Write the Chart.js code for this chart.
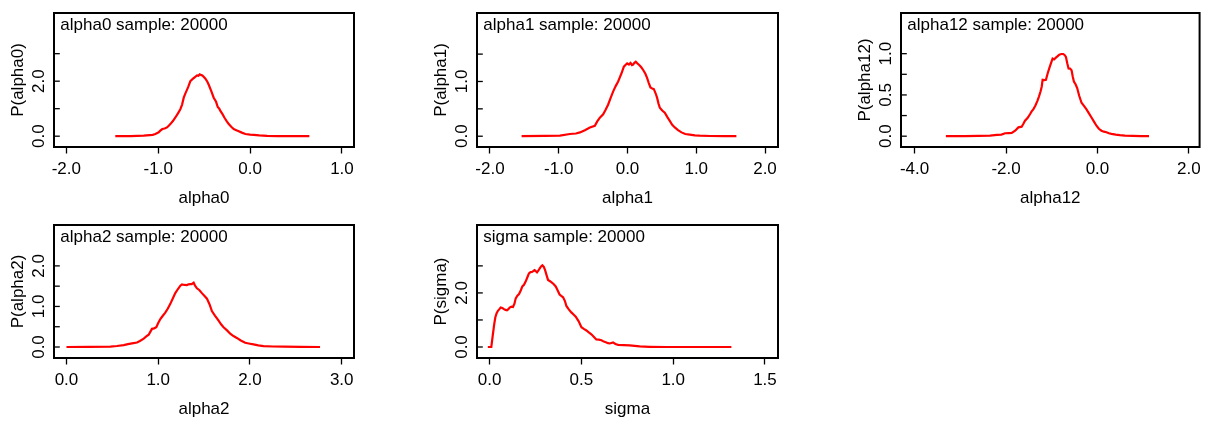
<!DOCTYPE html>
<html><head><meta charset="utf-8">
<script src="https://cdn.jsdelivr.net/npm/chart.js@4.4.1/dist/chart.umd.min.js"></script>
<style>
html,body{margin:0;padding:0;background:#fff;}
body{width:1207px;height:421px;position:relative;overflow:hidden;}
canvas{position:absolute;}
</style></head><body>
<canvas id="c0"></canvas><canvas id="c1"></canvas><canvas id="c2"></canvas><canvas id="c3"></canvas><canvas id="c4"></canvas>
<script>
// ---- data ----
const alpha0X = [-1.467,-1.30,-1.158,-1.06,-1.031,-0.995,-0.977,-0.955,-0.93,-0.904,-0.885,-0.868,-0.84,-0.813,-0.785,-0.759,-0.74,-0.722,-0.705,-0.693,-0.672,-0.65,-0.635,-0.621,-0.6,-0.577,-0.562,-0.548,-0.53,-0.519,-0.5,-0.486,-0.465,-0.45,-0.42,-0.396,-0.37,-0.352,-0.335,-0.323,-0.30,-0.28,-0.255,-0.232,-0.205,-0.178,-0.15,-0.123,-0.09,-0.051,0.0,0.04,0.10,0.185,0.30,0.45,0.645];
const alpha0Y = [0,0.005,0.02,0.05,0.08,0.14,0.2,0.26,0.28,0.32,0.38,0.44,0.55,0.68,0.83,0.98,1.15,1.40,1.55,1.64,1.80,2.0,2.05,2.09,2.15,2.21,2.20,2.25,2.22,2.21,2.14,2.09,1.98,1.87,1.62,1.40,1.25,1.06,1.0,0.92,0.80,0.68,0.55,0.44,0.34,0.26,0.22,0.18,0.13,0.08,0.06,0.05,0.03,0.01,0.005,0.002,0];

const alpha1X = [-1.54,-1.2,-0.983,-0.838,-0.75,-0.692,-0.62,-0.547,-0.475,-0.44,-0.402,-0.354,-0.32,-0.281,-0.245,-0.208,-0.17,-0.136,-0.11,-0.087,-0.053,-0.03,-0.005,0.02,0.044,0.065,0.082,0.10,0.121,0.145,0.17,0.2,0.228,0.26,0.286,0.31,0.334,0.36,0.383,0.41,0.431,0.45,0.47,0.505,0.542,0.58,0.615,0.65,0.688,0.735,0.785,0.84,0.906,0.98,1.05,1.2,1.4,1.584];
const alpha1Y = [0,0.005,0.01,0.04,0.05,0.07,0.11,0.16,0.19,0.27,0.34,0.40,0.48,0.58,0.70,0.82,0.92,1.0,1.08,1.15,1.27,1.30,1.33,1.31,1.34,1.30,1.31,1.34,1.36,1.33,1.30,1.26,1.21,1.14,1.06,0.97,0.89,0.87,0.86,0.78,0.70,0.6,0.52,0.47,0.43,0.35,0.28,0.21,0.16,0.11,0.07,0.04,0.03,0.015,0.01,0.004,0.001,0];

const alpha12X = [-3.316,-2.9,-2.6,-2.349,-2.2,-2.1,-2.02,-1.94,-1.876,-1.80,-1.73,-1.658,-1.62,-1.585,-1.53,-1.476,-1.44,-1.404,-1.36,-1.316,-1.28,-1.244,-1.22,-1.2,-1.16,-1.127,-1.09,-1.055,-1.02,-0.982,-0.95,-0.909,-0.87,-0.836,-0.79,-0.749,-0.72,-0.69,-0.66,-0.633,-0.60,-0.567,-0.54,-0.516,-0.48,-0.444,-0.40,-0.349,-0.30,-0.24,-0.19,-0.131,-0.08,-0.022,0.03,0.087,0.14,0.196,0.25,0.305,0.4,0.487,0.6,0.778,0.95,1.127];
const alpha12Y = [0,0.002,0.004,0.008,0.016,0.02,0.036,0.038,0.04,0.067,0.107,0.115,0.15,0.187,0.22,0.266,0.30,0.325,0.37,0.425,0.48,0.544,0.6,0.683,0.68,0.683,0.76,0.821,0.88,0.94,0.93,0.952,0.97,0.988,0.996,0.996,0.985,0.96,0.88,0.821,0.82,0.80,0.72,0.663,0.63,0.583,0.49,0.405,0.37,0.325,0.28,0.226,0.18,0.127,0.09,0.067,0.055,0.048,0.035,0.028,0.018,0.012,0.008,0.004,0.001,0];

const alpha2X = [0.0,0.25,0.479,0.55,0.624,0.67,0.715,0.769,0.80,0.842,0.87,0.896,0.915,0.932,0.955,0.979,1.0,1.023,1.05,1.077,1.105,1.132,1.16,1.186,1.215,1.241,1.259,1.285,1.313,1.33,1.349,1.365,1.386,1.40,1.422,1.45,1.476,1.50,1.531,1.56,1.585,1.62,1.658,1.685,1.712,1.75,1.785,1.82,1.857,1.90,1.948,2.0,2.039,2.09,2.148,2.25,2.365,2.55,2.764];
const alpha2Y = [0,0.002,0.008,0.025,0.048,0.07,0.088,0.112,0.15,0.208,0.26,0.304,0.38,0.448,0.46,0.488,0.59,0.688,0.77,0.848,0.95,1.064,1.20,1.328,1.43,1.512,1.544,1.53,1.528,1.545,1.552,1.55,1.584,1.52,1.448,1.40,1.328,1.27,1.192,1.05,0.888,0.77,0.648,0.56,0.488,0.41,0.328,0.27,0.224,0.16,0.104,0.08,0.064,0.04,0.024,0.013,0.008,0.003,0];

const sigmaX = [-0.01,0.009,0.018,0.025,0.031,0.038,0.045,0.053,0.06,0.069,0.078,0.086,0.094,0.102,0.109,0.118,0.127,0.135,0.142,0.151,0.16,0.17,0.178,0.187,0.196,0.205,0.214,0.223,0.233,0.24,0.245,0.252,0.258,0.265,0.272,0.28,0.287,0.295,0.302,0.31,0.318,0.327,0.336,0.348,0.36,0.37,0.381,0.39,0.40,0.41,0.418,0.43,0.445,0.457,0.469,0.485,0.50,0.513,0.527,0.54,0.554,0.567,0.581,0.595,0.609,0.622,0.636,0.645,0.654,0.663,0.672,0.685,0.70,0.73,0.763,0.79,0.817,0.87,0.963,1.1,1.317];
const sigmaY = [0,0,0.49,0.85,1.10,1.25,1.34,1.40,1.46,1.44,1.40,1.37,1.36,1.40,1.46,1.49,1.48,1.60,1.80,1.90,1.96,2.10,2.24,2.30,2.42,2.57,2.72,2.77,2.78,2.82,2.84,2.80,2.76,2.82,2.90,2.98,3.02,2.96,2.84,2.66,2.48,2.44,2.40,2.33,2.24,2.10,1.94,1.89,1.84,1.70,1.52,1.40,1.28,1.20,1.12,0.95,0.73,0.67,0.61,0.54,0.47,0.38,0.28,0.27,0.25,0.20,0.17,0.14,0.13,0.15,0.17,0.11,0.08,0.07,0.06,0.04,0.02,0.008,0,0,0];

// tick values and labels
const alpha0XTicks = [-2, -1, 0, 1];
const alpha0YTicks = [0, 1, 2, 3];
const alpha0YLabels = ['0.0', '', '2.0', ''];
const alpha1XTicks = [-2, -1, 0, 1, 2];
const alpha1YTicks = [0, 0.5, 1, 1.5];
const alpha1YLabels = ['0.0', '', '1.0', ''];
const alpha12XTicks = [-4, -2, 0, 2];
const alpha12YTicks = [0, 0.25, 0.5, 0.75, 1];
const alpha12YLabels = ['0.0', '', '0.5', '', '1.0'];
const alpha2XTicks = [0, 1, 2, 3];
const alpha2YTicks = [0, 0.5, 1, 1.5, 2];
const alpha2YLabels = ['0.0', '', '1.0', '', '2.0'];
const sigmaXTicks = [0, 0.5, 1, 1.5];
const sigmaYTicks = [0, 1, 2, 3];
const sigmaYLabels = ['0.0', '', '2.0', ''];

const panelNames = ['alpha0', 'alpha1', 'alpha12', 'alpha2', 'sigma'];
const sampleSize = 20000;

// ---- layout / style ----
const FONT = '"Liberation Sans", Arial, Helvetica, sans-serif';
Chart.defaults.font.family = FONT;
Chart.defaults.font.size = 17;
Chart.defaults.color = '#000';

const panels = [
  {id:'c0', name:'alpha0', xs:alpha0X, ys:alpha0Y, xTicks:alpha0XTicks, yTicks:alpha0YTicks, yLabels:alpha0YLabels,
   rect:[0,0,402,212], box:[54,10,354,147], xMin:-2.134, xMax:1.131, yMin:-0.393, yMax:4.479},
  {id:'c1', name:'alpha1', xs:alpha1X, ys:alpha1Y, xTicks:alpha1XTicks, yTicks:alpha1YTicks, yLabels:alpha1YLabels,
   rect:[402,0,402,212], box:[477,10,778,147], xMin:-2.189, xMax:2.189, yMin:-0.197, yMax:2.251},
  {id:'c2', name:'alpha12', xs:alpha12X, ys:alpha12Y, xTicks:alpha12XTicks, yTicks:alpha12YTicks, yLabels:alpha12YLabels,
   rect:[804,0,403,212], box:[901,10,1200,147], xMin:-4.297, xMax:2.233, yMin:-0.131, yMax:1.493},
  {id:'c3', name:'alpha2', xs:alpha2X, ys:alpha2Y, xTicks:alpha2XTicks, yTicks:alpha2YTicks, yLabels:alpha2YLabels,
   rect:[0,212,402,209], box:[54,222,354,358], xMin:-0.136, xMax:3.134, yMin:-0.271, yMax:3.008},
  {id:'c4', name:'sigma', xs:sigmaX, ys:sigmaY, xTicks:sigmaXTicks, yTicks:sigmaYTicks, yLabels:sigmaYLabels,
   rect:[402,212,402,209], box:[477,222,778,358], xMin:-0.069, xMax:1.571, yMin:-0.407, yMax:4.512}
];

const deco = {
  id: 'panelDeco',
  afterDatasetsDraw(chart, args, opts) {
    const {ctx, chartArea: a} = chart;
    const y = chart.scales.y;
    ctx.save();
    ctx.strokeStyle = '#000';
    ctx.lineWidth = 2;
    ctx.strokeRect(a.left, a.top, a.right - a.left, a.bottom - a.top);
    ctx.lineWidth = 1.3;
    y.ticks.forEach(t => {
      const py = y.getPixelForValue(t.value);
      ctx.beginPath();
      ctx.moveTo(a.left, py);
      ctx.lineTo(a.left + 5.8, py);
      ctx.stroke();
    });
    ctx.fillStyle = '#000';
    ctx.font = '17px ' + FONT;
    ctx.textAlign = 'left';
    ctx.textBaseline = 'alphabetic';
    ctx.fillText(opts.title, a.left + 6.3, a.top + 17.3);
    ctx.restore();
  }
};

const YW = 46, XH = 62;
panels.forEach(p => {
  const cv = document.getElementById(p.id);
  cv.width = p.rect[2]; cv.height = p.rect[3];
  cv.style.left = p.rect[0] + 'px'; cv.style.top = p.rect[1] + 'px';
  cv.style.width = p.rect[2] + 'px'; cv.style.height = p.rect[3] + 'px';
  const pad = {
    left: p.box[0] - p.rect[0] - YW,
    top: p.box[1] - p.rect[1],
    right: p.rect[0] + p.rect[2] - p.box[2],
    bottom: p.rect[1] + p.rect[3] - p.box[3] - XH
  };
  new Chart(cv, {
    type: 'line',
    data: {
      datasets: [{
        data: p.xs.map((x, i) => ({x: x, y: p.ys[i]})),
        borderColor: '#ff0000', borderWidth: 2.2, pointRadius: 0, tension: 0, fill: false
      }]
    },
    options: {
      responsive: false, animation: false, devicePixelRatio: 1,
      layout: {padding: pad},
      events: [],
      plugins: {legend: {display: false}, tooltip: {enabled: false},
                panelDeco: {title: p.name + ' sample: ' + sampleSize}},
      scales: {
        x: {
          type: 'linear', position: 'bottom', min: p.xMin, max: p.xMax,
          afterBuildTicks: s => { s.ticks = p.xTicks.map(v => ({value: v})); },
          afterFit: s => { s.height = XH; },
          ticks: {autoSkip: false, maxRotation: 0, minRotation: 0, padding: 6,
                  callback: v => Number(v).toFixed(1), color: '#000'},
          grid: {display: true, drawOnChartArea: false, drawTicks: true, tickLength: 6.5,
                 tickColor: '#000', tickWidth: 1.3},
          border: {display: false},
          title: {display: true, text: p.name, color: '#000', padding: {top: 0, bottom: 0.9}}
        },
        y: {
          type: 'linear', position: 'left', min: p.yMin, max: p.yMax,
          afterBuildTicks: s => { s.ticks = p.yTicks.map(v => ({value: v})); },
          afterFit: s => { s.width = YW; },
          ticks: {autoSkip: false, minRotation: 90, maxRotation: 90, crossAlign: 'center', padding: 2.8,
                  callback: (v, i) => p.yLabels[i], color: '#000'},
          grid: {display: false, drawTicks: false},
          border: {display: false},
          title: {display: true, text: 'P(' + p.name + ')', color: '#000', padding: {top: 0.4, bottom: 0}}
        }
      }
    },
    plugins: [deco]
  });
});
</script>
</body></html>
